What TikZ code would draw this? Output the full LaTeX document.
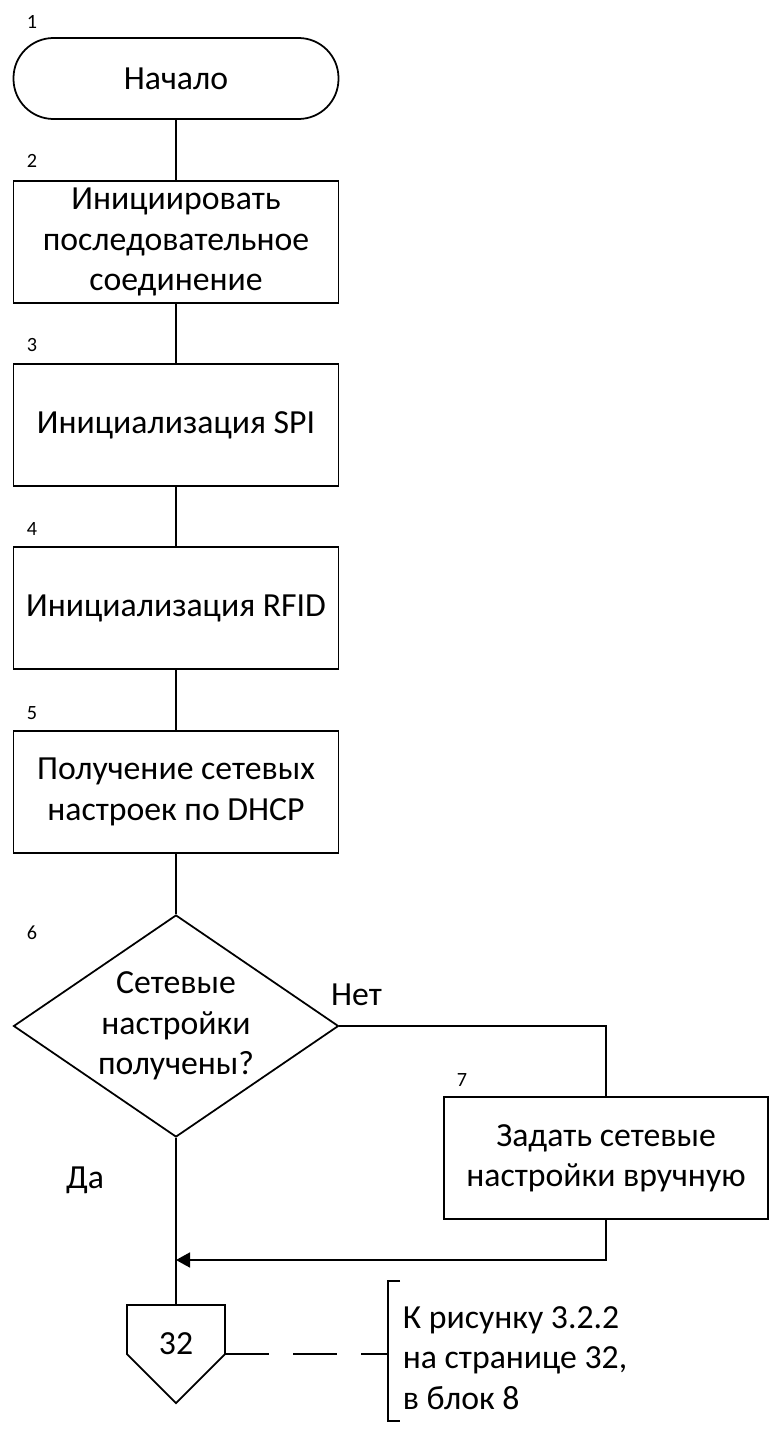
\documentclass[tikz,border=0pt]{standalone}
\usepackage{fontspec}
\setmainfont{Carlito}
\usepackage{tikz}
\usetikzlibrary{arrows.meta,shapes.geometric}

\begin{document}
\begin{tikzpicture}[line width=1pt,
  every node/.style={font=\fontsize{19.2pt}{23pt}\selectfont},
  block/.style={draw, rectangle, inner sep=0pt, minimum width=6.5cm, minimum height=2.44cm, align=center},
  term/.style={draw, rectangle, rounded corners=0.8cm, inner sep=0pt, minimum width=6.5cm, minimum height=1.62cm},
  decision/.style={draw, diamond, aspect=1.46, inner sep=0pt, minimum width=6.5cm, minimum height=4.44cm, align=center},
  num/.style={anchor=base, font=\fontsize{11.5pt}{13pt}\selectfont}]
\useasboundingbox (0,0) rectangle (15.44,-28.64);

% blocks
\node[term] (start) at (3.52,-1.57) {Начало};
\node[block] (init) at (3.52,-4.84) {Инициировать\\последовательное\\соединение};
\node[block] (spi) at (3.52,-8.50) {Инициализация SPI};
\node[block] (rfid) at (3.52,-12.16) {Инициализация RFID};
\node[block] (dhcp) at (3.52,-15.84) {Получение сетевых\\настроек по DHCP};
\node[decision] (check) at (3.52,-20.52) {Сетевые\\настройки\\получены?};
\node[block, minimum width=6.48cm] (manual) at (12.12,-23.16) {Задать сетевые\\настройки вручную};

% block numbers
\node[num] at (0.64,-0.58) {1};
\node[num] at (0.64,-3.36) {2};
\node[num] at (0.64,-7.02) {3};
\node[num] at (0.64,-10.70) {4};
\node[num] at (0.64,-14.38) {5};
\node[num] at (0.64,-18.78) {6};
\node[num] at (9.24,-21.72) {7};

% off-page connector
\coordinate (join) at (3.52,-25.20);
\coordinate (conntop) at (3.52,-26.10);
\coordinate (connright) at (4.50,-27.08);
\draw (conntop) ++(-0.98,0) -- ++(1.96,0) -- ++(0,-0.98) -- ++(-0.98,-0.98) -- ++(-0.98,0.98) -- cycle;
\node (conn) at (3.52,-26.88) {32};

% links
\draw (start) -- (init);
\draw (init) -- (spi);
\draw (spi) -- (rfid);
\draw (rfid) -- (dhcp);
\draw (dhcp) -- (check);
\draw (check) -- (conntop);
\draw (check.east) -| (manual.north);
\draw[-{Triangle[length=0.28cm, width=0.3cm]}] (manual.south) |- (join);

\node[anchor=base] (no) at (7.13,-20.10) {Нет};
\node[anchor=base] (yes) at (1.70,-23.76) {Да};

% comment
\coordinate (brk) at (7.76,-27.08);
\draw[dash pattern=on 0.88cm off 0.48cm] (connright) -- (brk);
\draw (8.00,-25.62) -| (7.76,-28.42) -- (8.00,-28.42);
\node[anchor=west, align=left, inner sep=0pt] (note) at (8.04,-27.16) {К рисунку 3.2.2\\на странице 32,\\в блок 8};

\end{tikzpicture}
\end{document}
